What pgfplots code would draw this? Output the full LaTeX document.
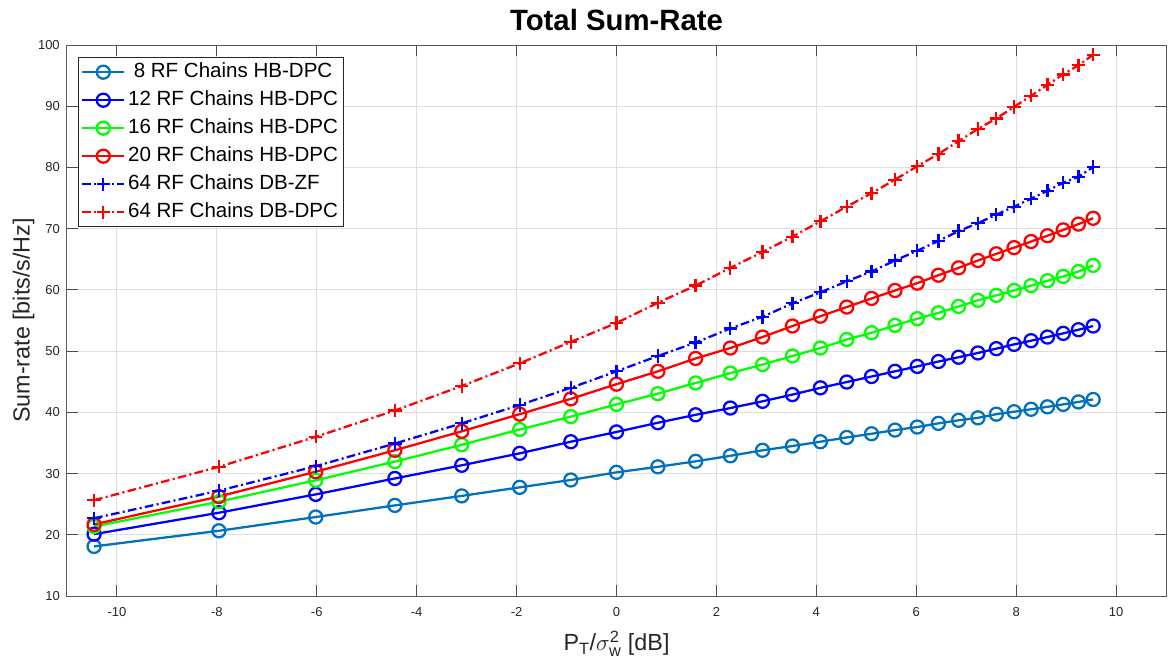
\documentclass[border=0pt]{standalone}
\usepackage{amsmath}
\usepackage{fontspec}
\setmainfont{Liberation Sans}
\usepackage{pgfplots}
\usepackage{pgfplotstable}
\pgfplotsset{compat=1.18}
\definecolor{mblue}{rgb}{0,0.447,0.741}
\definecolor{gridc}{rgb}{0.87,0.87,0.87}
\definecolor{axc}{rgb}{0.15,0.15,0.15}
\pgfplotstableread{
x hbeight hbtwelve hbsixteen hbtwenty zf dpc
-10.458 18.1 20.1 21.35 21.7 22.7 25.65
-7.959 20.65 23.6 25.4 26.25 27.2 31.1
-6.021 22.9 26.6 28.9 30.3 31.2 36.0
-4.437 24.8 29.2 31.95 33.8 34.9 40.3
-3.098 26.35 31.35 34.7 36.9 38.2 44.3
-1.938 27.75 33.3 37.2 39.7 41.2 48.0
-0.915 28.95 35.2 39.3 42.2 44.0 51.5
0 30.2 36.8 41.3 44.6 46.7 54.6
0.828 31.1 38.3 43.05 46.7 49.2 57.9
1.584 32.0 39.6 44.8 48.8 51.4 60.7
2.279 32.9 40.7 46.4 50.5 53.7 63.6
2.923 33.8 41.8 47.8 52.3 55.6 66.2
3.522 34.5 42.9 49.2 54.1 57.8 68.7
4.082 35.2 44.0 50.5 55.7 59.6 71.2
4.609 35.9 44.95 51.9 57.2 61.4 73.6
5.105 36.5 45.85 53.0 58.6 63.0 75.8
5.575 37.1 46.7 54.2 59.9 64.8 78.0
6.021 37.6 47.5 55.3 61.1 66.4 80.2
6.444 38.2 48.3 56.25 62.4 68.0 82.2
6.848 38.7 49.0 57.3 63.6 69.6 84.3
7.235 39.1 49.7 58.3 64.8 70.9 86.3
7.604 39.7 50.4 59.1 65.9 72.3 88.0
7.959 40.1 51.1 59.9 66.9 73.6 89.9
8.299 40.5 51.7 60.7 67.9 74.9 91.7
8.627 40.9 52.3 61.5 68.85 76.2 93.5
8.943 41.3 52.9 62.2 69.8 77.5 95.2
9.248 41.7 53.5 63.0 70.75 78.5 96.7
9.542 42.1 54.1 64.0 71.7 80.05 98.4
}\datatable
\begin{document}
\begin{tikzpicture}
\useasboundingbox (-50.25pt,-54pt) rectangle (825.75pt,447pt);
\begin{axis}[
  at={(0pt,0pt)}, anchor=south west,
  scale only axis, width=824.25pt, height=413.25pt,
  xmin=-11, xmax=11, ymin=10, ymax=100,
  xtick={-10,-8,...,10}, ytick={10,20,...,100},
  grid=major, major grid style={gridc, line width=0.75pt},
  axis line style={black!65, line width=0.75pt},
  tick style={black!70, line width=0.75pt},
  tick align=inside, major tick length=8.25pt,
  /pgf/number format/assume math mode=true,
  ticklabel style={font=\fontsize{9.75}{11}\selectfont, color=axc},
  xticklabel style={anchor=base, yshift=-15pt},
  yticklabel style={anchor=east, inner sep=0pt, xshift=-5.25pt},
  title={Total Sum-Rate},
  title style={font=\fontsize{22}{26}\selectfont\bfseries, at={(0.5,1)}, anchor=base, yshift=5.25pt},
  xlabel={P$_{\text{T}}$/$\sigma_{\text{w}}^{\text{2}}$ [dB]},
  xlabel style={font=\fontsize{17.5}{20}\selectfont, color=axc, at={(axis description cs:0.5,0)}, anchor=base, yshift=-41pt},
  ylabel={Sum-rate [bits/s/Hz]},
  ylabel style={font=\fontsize{17.5}{20}\selectfont, color=axc, at={(axis description cs:-0.0395,0.5)}, anchor=center},
  legend cell align=left,
  legend image code/.code={\draw[mark repeat=2,mark phase=2,#1] plot coordinates {(0pt,0pt) (15.75pt,0pt) (31.5pt,0pt)};},
  legend style={at={(0,1)}, anchor=north west, xshift=8.25pt, yshift=-9pt,
    draw=axc, line width=0.75pt, fill=white, font=\fontsize{15.4}{18}\selectfont,
    inner xsep=2pt, inner ysep=0.5pt, row sep=0pt,
    nodes={text height=11pt, text depth=3pt, inner ysep=3.5pt, inner xsep=2pt}},
  every axis plot/.append style={line width=1.7pt},
]
\addplot[color=mblue, mark=o, mark size=4.9pt] table[x=x, y=hbeight] {\datatable};
\addlegendentry{\ 8 RF Chains HB-DPC}
\addplot[color=blue, mark=o, mark size=4.9pt] table[x=x, y=hbtwelve] {\datatable};
\addlegendentry{12 RF Chains HB-DPC}
\addplot[color=green, mark=o, mark size=4.9pt] table[x=x, y=hbsixteen] {\datatable};
\addlegendentry{16 RF Chains HB-DPC}
\addplot[color=red, mark=o, mark size=4.9pt] table[x=x, y=hbtwenty] {\datatable};
\addlegendentry{20 RF Chains HB-DPC}
\addplot[color=blue, mark=+, mark size=5pt, mark options={solid}, dash pattern=on 6.5pt off 2.5pt on 1.5pt off 2.5pt] table[x=x, y=zf] {\datatable};
\addlegendentry{64 RF Chains DB-ZF}
\addplot[color=red, mark=+, mark size=5pt, mark options={solid}, dash pattern=on 6.5pt off 2.5pt on 1.5pt off 2.5pt] table[x=x, y=dpc] {\datatable};
\addlegendentry{64 RF Chains DB-DPC}
\end{axis}
\end{tikzpicture}
\end{document}
